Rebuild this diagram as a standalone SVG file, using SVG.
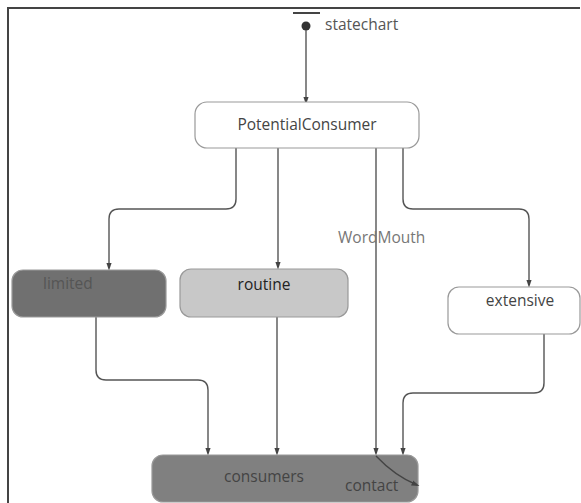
<svg xmlns="http://www.w3.org/2000/svg" width="581" height="503" viewBox="0 0 581 503">
<style>
.frame{stroke:#444;stroke-width:2;fill:none}
.state{stroke:#999;stroke-width:1.2}
.lbl{font-family:"Open Sans","DejaVu Sans",sans-serif;font-size:15.5px}
.edge{stroke:#555;stroke-width:1.4;fill:none;marker-end:url(#arr)}
</style>
<defs>
<marker id="arr" markerWidth="8" markerHeight="12" refX="8" refY="4" orient="auto" markerUnits="userSpaceOnUse" viewBox="0 0 12 8">
<path d="M0,0 L12,4 L0,8 z" fill="#444"/>
</marker>
</defs>
<rect width="581" height="503" fill="#fff"/>
<path class="frame" d="M8,503 V8 H580"/>
<g id="initial">
<line x1="293" y1="13" x2="320" y2="13" stroke="#444" stroke-width="2"/>
<circle cx="306" cy="26" r="4.5" fill="#333"/>
<text class="lbl" x="325" y="30" fill="#555">statechart</text>
</g>
<g id="connectors">
<path class="edge" d="M306,30 V102"/>
<path class="edge" d="M236,148 V199 Q236,209 226,209 H119 Q109,209 109,219 V268"/>
<path class="edge" d="M278,148 V267"/>
<path class="edge" d="M376,148 V453"/>
<path class="edge" d="M403,148 V199 Q403,209 413,209 H519 Q529,209 529,219 V285"/>
<path class="edge" d="M96,317 V370 Q96,380 106,380 H198 Q208,380 208,390 V453"/>
<path class="edge" d="M277,317 V453"/>
<path class="edge" d="M544,334 V383 Q544,393 534,393 H413 Q403,393 403,403 V453"/>
<text class="lbl" x="338" y="243" fill="#777">WordMouth</text>
</g>
<g id="PotentialConsumer">
<rect class="state" x="195" y="102" width="224" height="46" rx="12" fill="#fff"/>
<text class="lbl" x="307" y="130" text-anchor="middle" fill="#444">PotentialConsumer</text>
</g>
<g id="limited">
<rect class="state" x="12" y="270" width="154" height="47" rx="11" fill="#707070"/>
<text class="lbl" x="43" y="289" fill="#555">limited</text>
</g>
<g id="routine">
<rect class="state" x="180" y="269" width="168" height="48" rx="11" fill="#c8c8c8"/>
<text class="lbl" x="264" y="290" text-anchor="middle" fill="#222">routine</text>
</g>
<g id="extensive">
<rect class="state" x="448" y="287" width="132" height="47" rx="11" fill="#fff"/>
<text class="lbl" x="520" y="306" text-anchor="middle" fill="#444">extensive</text>
</g>
<g id="consumers">
<rect class="state" x="152" y="455" width="266" height="47" rx="11" fill="#808080"/>
<text class="lbl" x="264" y="482" text-anchor="middle" fill="#444">consumers</text>
<text class="lbl" x="345" y="491" fill="#444">contact</text>
<path d="M376,456 Q395,476 417,485" stroke="#444" stroke-width="1.4" fill="none" marker-end="url(#arr)"/>
</g>
</svg>
